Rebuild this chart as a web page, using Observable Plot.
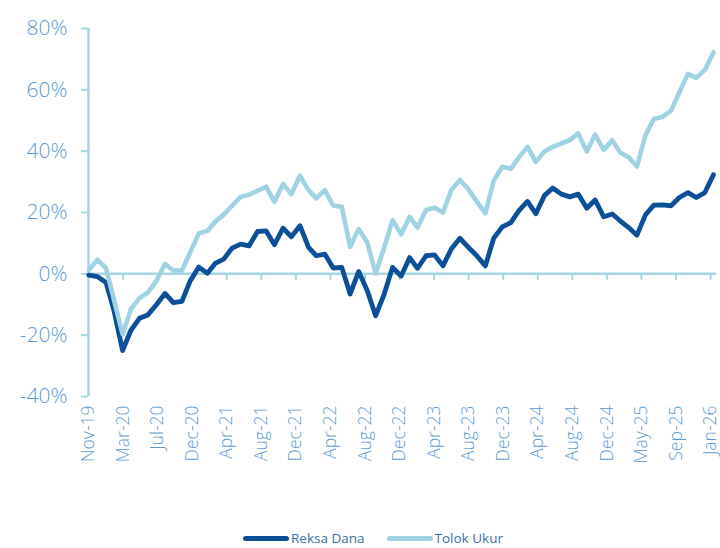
<!DOCTYPE html>
<html>
<head>
<meta charset="utf-8">
<script src="https://cdn.jsdelivr.net/npm/d3@7"></script>
<script src="https://cdn.jsdelivr.net/npm/@observablehq/plot@0.6"></script>
<style>
  html, body { margin: 0; padding: 0; background: #fff; }
  #wrap { position: relative; width: 720px; height: 548px; }
  #chart svg { display: block; }
  #legend { position: absolute; left: 243px; top: 528px; height: 20px; display: flex; align-items: center;
            font-family: "Open Sans", "Noto Sans", sans-serif; font-size: 13.5px; color: #3a6ea8; }
  .item { display: flex; align-items: center; margin-right: 22px; }
  .sw { width: 46px; height: 5px; border-radius: 3px; margin-right: 2px; }
</style>
</head>
<body>
<div id="wrap">
  <div id="chart"></div>
  <div id="legend"></div>
</div>
<script>
// Series names and colours
const seriesNames = ["Reksa Dana", "Tolok Ukur"];
const seriesColors = ["#0a4f98", "#9dd3e2"];

// Monthly observations, Nov-2019 .. Jan-2026 (month-end), cumulative return in %
const reksaDana = [
  -0.4, -0.9, -2.8, -12.0, -25.0, -18.4, -14.5, -13.4, -10.1, -6.4, -9.4, -9.0,
  -2.3, 2.2, 0.2, 3.4, 4.8, 8.4, 9.7, 9.1, 13.8, 14.0, 9.5, 14.9,
  12.1, 15.7, 8.6, 5.9, 6.4, 1.9, 2.1, -6.6, 0.8, -5.5, -13.7, -6.6,
  2.1, -0.7, 5.3, 1.8, 5.9, 6.2, 2.6, 8.1, 11.6, 8.6, 5.9, 2.6,
  11.6, 15.3, 16.7, 20.6, 23.6, 19.6, 25.5, 28.0, 26.0, 25.1, 26.0, 21.4,
  24.1, 18.6, 19.5, 17.3, 15.1, 12.6, 19.3, 22.4, 22.5, 22.2, 24.9, 26.5,
  24.9, 26.5, 32.3
];
const tolokUkur = [
  1.2, 4.6, 1.9, -8.5, -19.7, -11.5, -7.9, -6.1, -2.3, 3.2, 1.1, 1.1,
  7.0, 13.2, 14.0, 17.0, 19.3, 22.2, 25.1, 25.8, 27.1, 28.4, 23.5, 29.3,
  26.0, 32.0, 27.3, 24.6, 27.3, 22.2, 21.9, 8.8, 14.6, 10.2, 0.1, 8.6,
  17.5, 12.9, 18.6, 15.1, 20.8, 21.6, 20.0, 27.3, 30.6, 27.6, 23.6, 19.7,
  30.3, 34.9, 34.2, 38.0, 41.4, 36.5, 39.9, 41.4, 42.5, 43.6, 45.8, 39.9,
  45.4, 40.4, 43.6, 39.6, 38.0, 35.0, 45.3, 50.5, 51.2, 53.2, 59.2, 65.2,
  63.9, 66.5, 72.2
];

// Month-end dates (categories)
const firstMonth = new Date(Date.UTC(2019, 11, 1));
const dates = reksaDana.map((_, i) => d3.utcDay.offset(d3.utcMonth.offset(firstMonth, i), -1));

// Axis tick labels
const xTickLabels = ["Nov-19","Mar-20","Jul-20","Dec-20","Apr-21","Aug-21","Dec-21","Apr-22","Aug-22",
  "Dec-22","Apr-23","Aug-23","Dec-23","Apr-24","Aug-24","Dec-24","May-25","Sep-25","Jan-26"];
const yTicks = [-40, -20, 0, 20, 40, 60, 80];

// Axis start and evenly spaced label positions (chart's date axis major unit)
const axisStart = new Date(Date.UTC(2019, 10, 29));
const axisEnd = new Date(Date.UTC(2026, 1, 11));
const majorUnitDays = 124.7;
const xTicks = xTickLabels.map((_, k) => new Date(+axisStart + k * majorUnitDays * 864e5));
const labelOf = new Map(xTicks.map((d, k) => [+d, xTickLabels[k]]));

const rows = [];
dates.forEach((d, i) => {
  rows.push({date: d, value: reksaDana[i], series: seriesNames[0]});
});
dates.forEach((d, i) => {
  rows.push({date: d, value: tolokUkur[i], series: seriesNames[1]});
});

const axisColor = "#a6d6e3";
const labelColor = "#5b9bd3";
const font = '"Open Sans", "Noto Sans", sans-serif';

const chart = Plot.plot({
  width: 720,
  height: 525,
  marginTop: 28,
  marginBottom: 129,
  marginLeft: 88,
  marginRight: 4,
  style: {fontFamily: font, background: "#fff"},
  x: {type: "utc", domain: [axisStart, axisEnd], label: null},
  y: {domain: [-40, 80], label: null},
  marks: [
    Plot.ruleX([axisStart], {stroke: axisColor, strokeWidth: 2.5}),
    Plot.ruleY([0], {stroke: axisColor, strokeWidth: 2.5}),
    Plot.ruleX(xTicks, {x: d => d, y1: 0, y2: -2.1, stroke: axisColor, strokeWidth: 2}),
    Plot.axisY({ticks: yTicks, tickSize: 7, tickPadding: 14, stroke: axisColor, strokeWidth: 2, label: null,
      tickFormat: d => d + "%", fontSize: 21, fontWeight: 300, fill: labelColor}),
    Plot.axisX({ticks: xTicks, tickSize: 0, tickPadding: 9, tickRotate: -90, label: null,
      tickFormat: d => labelOf.get(+d), fontSize: 17.5, fontWeight: 300, fill: labelColor}),
    Plot.lineY(rows.filter(r => r.series === seriesNames[0]), {x: "date", y: "value",
      stroke: seriesColors[0], strokeWidth: 4.8, strokeLinejoin: "round", strokeLinecap: "round"}),
    Plot.lineY(rows.filter(r => r.series === seriesNames[1]), {x: "date", y: "value",
      stroke: seriesColors[1], strokeWidth: 4.6, strokeLinejoin: "round", strokeLinecap: "round"})
  ]
});
document.getElementById("chart").appendChild(chart);

const legend = document.getElementById("legend");
seriesNames.forEach((name, i) => {
  const item = document.createElement("div");
  item.className = "item";
  const sw = document.createElement("div");
  sw.className = "sw";
  sw.style.background = seriesColors[i];
  const t = document.createElement("span");
  t.textContent = name;
  item.appendChild(sw);
  item.appendChild(t);
  legend.appendChild(item);
});
</script>
</body>
</html>
